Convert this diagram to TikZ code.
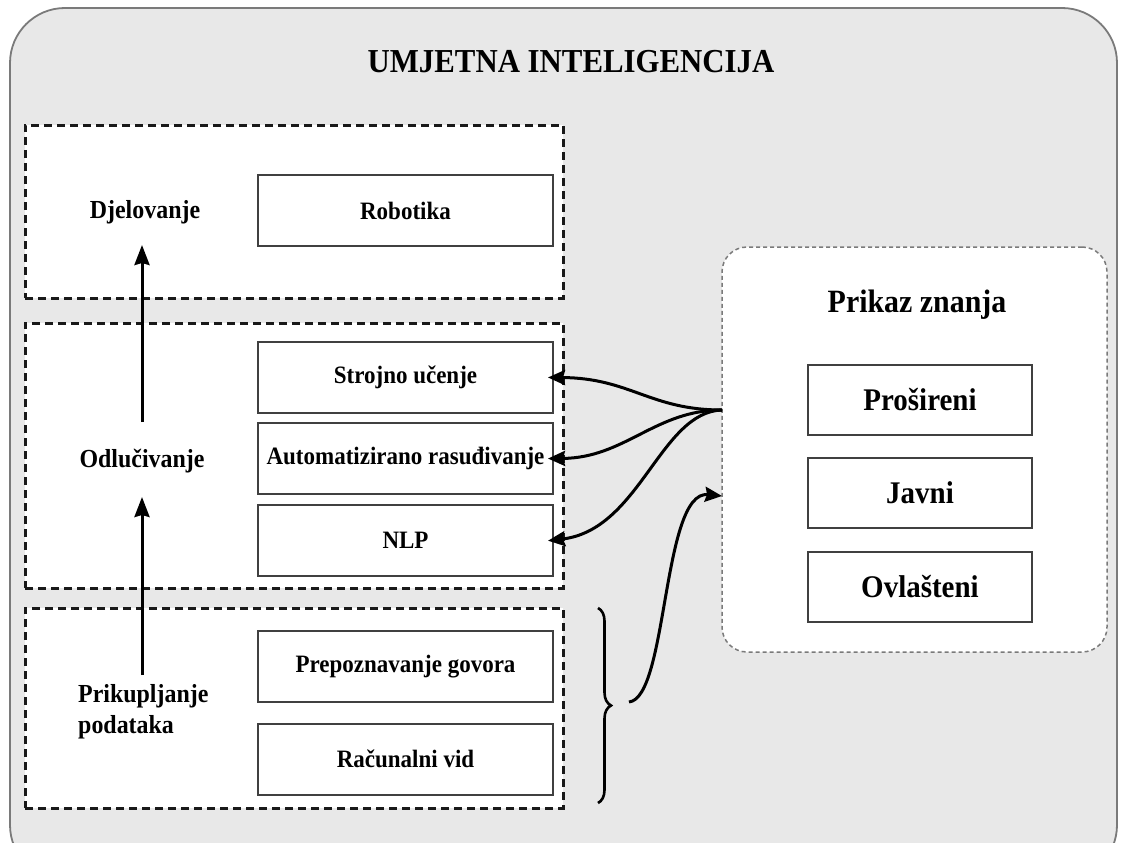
\documentclass[tikz,border=0pt]{standalone}
\usepackage{fontspec}
\setmainfont{Liberation Serif}
\newfontfamily\condfont[FakeStretch=0.92]{Liberation Serif}
\usetikzlibrary{arrows.meta,decorations.pathreplacing,calc}
\definecolor{bgray}{HTML}{E8E8E8}
\definecolor{edgegray}{HTML}{7A7A7A}
\begin{document}
\begin{tikzpicture}[x=1pt,y=-1pt,
  grp/.style={draw=black!90,line width=3pt,dash pattern=on 8pt off 5pt,fill=white,inner sep=0pt},
  item/.style={draw=black!75,line width=2pt,fill=white,minimum width=295pt,minimum height=71pt,inner sep=0pt,font=\condfont\bfseries\fontsize{25}{28}\selectfont},
  kbox/.style={draw=black!75,line width=2pt,fill=white,minimum width=224pt,minimum height=70pt,inner sep=0pt,font=\condfont\bfseries\fontsize{31.5}{34}\selectfont},
  lbl/.style={font=\condfont\bfseries\fontsize{26}{31}\selectfont,align=left,inner sep=0pt},
  arr/.style={line width=3pt,-{Stealth[length=20pt,width=15pt,inset=2pt]}},
  carr/.style={line width=3pt,-{Stealth[length=17pt,width=15pt,inset=2pt]},shorten >=-6pt},
]
\useasboundingbox (0,0) rectangle (1122,843);
\begin{scope}
\clip (0,0) rectangle (1122,843);
\draw[edgegray,line width=1.8pt,fill=bgray,rounded corners=55pt] (10,8) rectangle (1117,880);
\end{scope}

\node[font=\condfont\bfseries\fontsize{33.5}{38}\selectfont] (title) at (571,62) {UMJETNA INTELIGENCIJA};

% groups
\node[grp,minimum width=538pt,minimum height=173pt] (g1) at (294,211.5) {};
\node[grp,minimum width=538pt,minimum height=265pt] (g2) at (294,455.5) {};
\node[grp,minimum width=538pt,minimum height=200pt] (g3) at (294,708) {};

% items
\node[item] (rob) at (405.5,210.5) {Robotika};
\node[item] (su) at (405.5,377.5) {Strojno učenje};
\node[item] (ar) at (405.5,458.5) {Automatizirano rasuđivanje};
\node[item] (nlp) at (405.5,540) {NLP};
\node[item] (pg) at (405.5,666.5) {Prepoznavanje govora};
\node[item] (rv) at (405.5,759) {Računalni vid};

% left labels
\node[lbl] (dj) at (145,212) {Djelovanje};
\node[lbl] (od) at (142,461) {Odlučivanje};
\node[lbl,anchor=west] (pp) at (78,712) {Prikupljanje\\podataka};

\coordinate (a1s) at (142,422);
\coordinate (a1e) at (142,245);
\coordinate (a2s) at (142,675);
\coordinate (a2e) at (142,497);
\draw[arr] (a1s) -- (a1e);
\draw[arr] (a2s) -- (a2e);

% knowledge box
\node[draw=edgegray,line width=1.5pt,dash pattern=on 4pt off 3pt,fill=white,rounded corners=25pt,minimum width=385pt,minimum height=405pt] (kn) at (914.5,449.5) {};
\node[font=\condfont\bfseries\fontsize{32.5}{36}\selectfont] (pz) at (917,305) {Prikaz znanja};
\node[kbox] (pr) at (920,400) {Prošireni};
\node[kbox] (jv) at (920,492.5) {Javni};
\node[kbox] (ov) at (920,587) {Ovlašteni};

% connectors
\coordinate (hub) at (722,410);
\draw[carr] (hub) .. controls (650,410) and (630,378) .. (su.east);
\draw[carr] (hub) .. controls (655,410) and (625,458) .. (ar.east);
\draw[carr] (hub) .. controls (660,412) and (640,530) .. (nlp.east);

% brace
\draw[line width=2.6pt,decorate,decoration={brace,amplitude=13pt}] (598,608) -- (598,803);
\coordinate (bt) at (629,702);
\coordinate (kin) at (722,496);
\draw[carr,shorten >=0pt] (bt) .. controls (668,698) and (662,490) .. (kin);
\end{tikzpicture}
\end{document}
